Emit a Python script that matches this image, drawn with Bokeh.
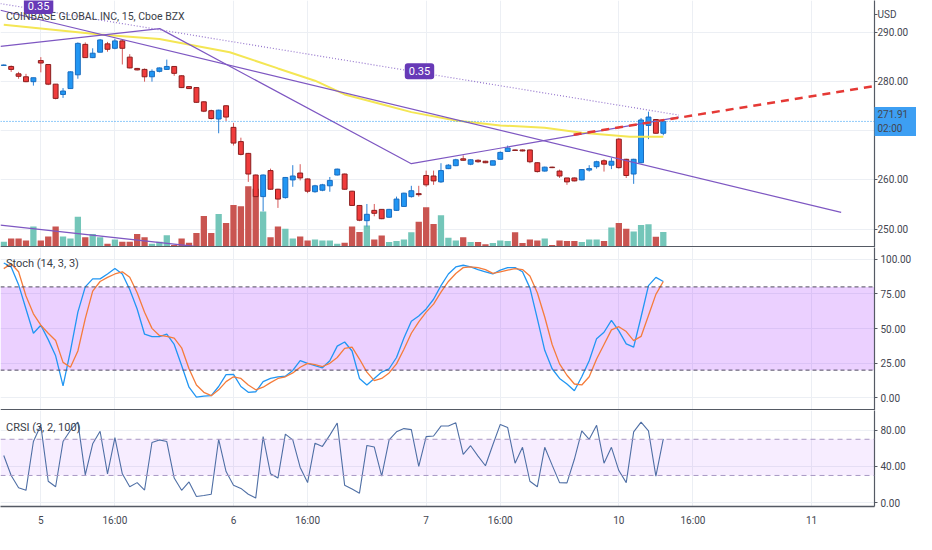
from bokeh.plotting import figure
from bokeh.layouts import column
from bokeh.models import (Range1d, FixedTicker, Span, Label, BoxAnnotation,
                          PrintfTickFormatter)
from bokeh.embed import file_html
from bokeh.resources import INLINE

# ---------------- data ----------------
bars = list(range(-5, 85))
opens = [283.3, 283.1, 281.6, 281.0, 280.0, 284.3, 283.5, 279.5, 277.4, 278.6,
         281.4, 287.6, 284.9, 286.0, 287.7, 286.8, 288.3, 285.0, 282.7, 282.5,
         281.0, 282.1, 282.5, 283.1, 281.2, 279.0, 278.8, 275.9, 274.1, 272.4,
         275.1, 270.7, 267.8, 265.4, 261.0, 256.6, 261.9, 258.1, 256.4, 260.0,
         261.4, 260.2, 257.6, 257.9, 258.8, 261.0, 261.2, 257.7, 254.8, 251.7,
         253.8, 254.0, 252.4, 253.8, 254.6, 256.6, 257.2, 260.9, 260.8, 259.6,
         262.3, 262.9, 264.3, 263.2, 264.0, 263.8, 263.0, 264.2, 265.8, 266.1,
         266.1, 266.1, 263.5, 261.8, 262.6, 261.8, 260.4, 260.4, 260.0, 262.0,
         262.7, 263.9, 263.0, 268.3, 264.2, 261.2, 263.5, 271.1, 272.3, 269.5]
highs = [283.5, 283.3, 282.0, 281.6, 280.8, 285.0, 283.6, 279.5, 278.7, 282.1,
         288.0, 288.0, 286.8, 288.7, 288.1, 288.7, 288.6, 285.6, 282.8, 282.7,
         282.5, 282.9, 284.5, 283.1, 281.3, 279.1, 278.9, 276.0, 274.3, 274.3,
         275.2, 271.6, 268.6, 265.5, 261.1, 261.1, 262.3, 258.2, 260.6, 263.0,
         263.2, 260.3, 259.0, 259.2, 260.6, 262.3, 261.3, 257.8, 254.9, 255.1,
         255.1, 254.0, 254.1, 256.6, 257.4, 258.8, 258.8, 261.9, 261.9, 263.4,
         263.2, 264.3, 265.0, 264.2, 264.2, 263.9, 263.9, 265.8, 267.0, 266.2,
         266.2, 266.2, 263.6, 262.7, 262.7, 262.1, 260.4, 260.5, 262.2, 263.0,
         263.9, 264.2, 264.5, 268.5, 264.3, 264.3, 272.6, 273.9, 272.4, 272.2]
lows = [283.2, 282.0, 280.6, 279.9, 279.2, 281.9, 279.3, 276.4, 276.7, 278.6,
        280.6, 284.9, 284.8, 286.0, 286.1, 286.6, 283.5, 282.7, 282.3, 280.0,
        280.0, 281.9, 282.4, 281.2, 278.7, 278.5, 275.7, 273.8, 272.3, 269.5,
        272.0, 267.0, 265.0, 259.6, 256.5, 253.6, 258.0, 254.3, 256.2, 258.6,
        259.9, 257.3, 257.4, 257.7, 257.6, 260.9, 258.0, 254.7, 251.6, 250.5,
        252.6, 252.0, 252.3, 253.7, 254.5, 256.4, 256.6, 258.6, 259.0, 259.4,
        262.2, 262.8, 263.9, 263.0, 263.5, 263.4, 263.0, 264.2, 265.7, 265.9,
        265.8, 263.4, 261.5, 261.7, 262.4, 260.4, 259.0, 259.7, 259.9, 261.7,
        262.3, 261.7, 262.2, 262.3, 260.4, 259.2, 263.4, 268.3, 269.4, 269.1]
closes = [283.4, 282.5, 281.1, 280.0, 280.8, 283.8, 279.5, 276.6, 278.1, 282.0,
          287.8, 284.9, 285.8, 288.5, 286.6, 288.3, 286.8, 282.8, 282.4, 281.0,
          282.1, 282.8, 283.1, 281.7, 278.8, 278.6, 275.8, 274.0, 272.5, 274.2,
          272.8, 267.5, 265.2, 261.2, 256.6, 261.0, 258.1, 256.1, 260.5, 260.8,
          260.4, 257.7, 258.8, 259.0, 259.9, 262.2, 258.1, 254.8, 251.8, 253.0,
          253.2, 252.1, 254.0, 256.1, 257.3, 257.8, 257.0, 259.0, 259.8, 261.9,
          263.0, 264.1, 264.0, 264.1, 263.7, 263.5, 263.9, 265.6, 266.5, 266.0,
          265.9, 263.7, 261.7, 262.6, 262.5, 260.8, 259.6, 259.8, 262.1, 262.3,
          263.7, 263.2, 263.8, 262.5, 260.9, 264.2, 272.2, 272.8, 269.5, 271.91]
volume = [18, 28, 28, 22, 65, 22, 34, 65, 34, 28,
          95, 32, 42, 32, 12, 25, 18, 18, 42, 32,
          12, 18, 38, 8, 28, 15, 45, 98, 45, 104,
          76, 132, 128, 190, 182, 112, 32, 65, 58, 28,
          34, 22, 25, 22, 22, 12, 15, 65, 48, 68,
          25, 37, 17, 20, 25, 47, 80, 125, 73, 100,
          30, 22, 32, 17, 17, 10, 14, 22, 20, 47,
          14, 25, 22, 28, 8, 22, 20, 20, 17, 25,
          25, 20, 62, 76, 58, 50, 70, 72, 33, 48]
stoch_k = [97.2, 94.4, 81.6, 64.1, 46.6, 52.4, 42.0, 30.3, 8.6, 33.8,
           61.8, 80.0, 85.8, 85.8, 89.3, 93.2, 89.3, 78.1, 64.1, 45.9,
           44.1, 44.1, 45.9, 38.5, 23.3, 7.7, 0.5, 1.2, 1.6, 8.2,
           16.8, 17.0, 8.2, 4.0, 4.4, 11.7, 14.0, 15.2, 15.6, 19.8,
           26.8, 24.9, 23.3, 21.7, 26.8, 37.3, 40.3, 33.8, 14.0, 9.3,
           14.0, 18.6, 21.0, 29.1, 43.1, 55.2, 59.0, 64.1, 71.1, 80.9,
           89.3, 94.4, 95.6, 94.4, 92.5, 90.9, 89.3, 92.1, 93.9, 93.9,
           90.9, 79.3, 57.1, 34.3, 21.0, 14.0, 10.0, 5.1, 15.2, 26.8,
           42.7, 47.3, 55.9, 48.3, 38.9, 36.6, 58.3, 80.9, 86.9, 83.9]
stoch_d = [93.2, 96.7, 90.9, 73.4, 60.6, 52.4, 46.6, 41.3, 25.6, 22.1,
           33.8, 57.1, 76.9, 83.9, 86.9, 89.3, 90.9, 86.9, 75.8, 61.8,
           50.1, 45.0, 44.3, 43.1, 36.1, 21.0, 9.3, 4.0, 1.6, 5.8,
           11.7, 15.2, 14.0, 9.3, 5.8, 7.7, 11.0, 14.0, 15.2, 18.0,
           22.1, 24.9, 24.0, 22.6, 24.9, 29.1, 35.7, 36.6, 28.0, 18.6,
           12.4, 14.0, 18.0, 24.5, 35.0, 46.6, 54.8, 61.8, 67.6, 76.2,
           83.9, 89.7, 93.9, 94.4, 93.9, 92.5, 89.7, 90.9, 92.1, 93.2,
           92.5, 87.9, 75.8, 58.3, 38.5, 24.5, 16.3, 10.0, 9.3, 15.2,
           28.0, 38.5, 49.0, 51.3, 47.8, 41.3, 44.3, 59.4, 74.6, 83.9]
crsi = [52.1, 30.0, 16.4, 13.6, 67.5, 85.4, 23.6, 17.5, 67.5, 80.0,
        88.9, 30.7, 65.0, 78.9, 31.8, 71.8, 31.8, 17.5, 22.1, 13.9,
        66.4, 69.3, 67.5, 27.1, 13.6, 22.9, 6.8, 7.9, 9.3, 70.0,
        34.3, 19.3, 15.7, 9.3, 5.0, 72.9, 31.8, 27.1, 75.7, 69.3,
        38.9, 22.1, 65.7, 62.1, 74.6, 87.9, 19.3, 15.0, 10.4, 63.2,
        61.4, 29.3, 69.3, 78.2, 81.8, 80.7, 40.0, 72.9, 73.6, 84.6,
        84.6, 88.2, 53.2, 62.9, 51.4, 40.7, 63.9, 86.4, 82.9, 43.6,
        61.1, 23.6, 17.5, 61.1, 41.4, 22.1, 21.8, 47.9, 79.3, 70.0,
        85.4, 43.6, 61.1, 35.4, 22.1, 78.2, 88.9, 79.3, 29.3, 70.4]
# moving average (yellow), read at bar positions
ma_bar = [-5, 8, 16, 25.5, 32, 37, 41, 46, 50, 56, 62, 68, 73, 79.5, 84]
ma_val = [291.6, 289.6, 288.7, 286.0, 282.7, 280.2, 277.4, 275.4, 273.8, 272.1,
          271.1, 270.6, 269.6, 268.8, 268.8]
# drawn trend lines (bar index, price)
tl_long_x = [-5.44, 108.0]
tl_long_y = [294.55, 253.4]
tl_zig_x = [-5.44, 16.05, 50.0, 86.1]
tl_zig_y = [287.2, 290.8, 263.3, 272.8]
tl_dot_x = [-5.44, 86.1]
tl_dot_y = [295.9, 273.2]
tl_low_x = [-5.44, 21.1]
tl_low_y = [250.8, 246.4]
tl_red_x = [71.9, 112.5]
tl_red_y = [269.2, 279.1]
last_price = 271.91
last_price_text = "271.91\n02:00"
currency_pos = 293.6
currency_text = "USD"

time_ticks = [0, 10, 26, 36, 52, 62, 78, 88, 104]
time_labels = ["5", "16:00", "6", "16:00", "7", "16:00", "10", "16:00", "11"]
price_ticks = [250, 260, 270, 280, 290]
stoch_ticks = [0, 25, 50, 75, 100]
crsi_ticks = [0, 40, 80]

# ---------------- styling ----------------
FONT = "Roboto"
W = 916
RB = 42
X0, X1 = -5.44, 112.5
xr = Range1d(X0, X1)
GRID = "#eceff4"
AXC = "#555a64"
LBL = "#434651"
UP_FILL, UP_LINE, UP_WICK = "#2196f3", "#1a6dc0", "#2a80d6"
DN_FILL, DN_LINE, DN_WICK = "#f03c3c", "#8b1e1e", "#d65a5a"
PURPLE = "#7e57c2"


def style_axis(ax):
    ax.axis_line_color = AXC
    ax.axis_line_width = 1.2
    ax.major_tick_out = 3
    ax.major_tick_in = 0
    ax.major_tick_line_color = AXC
    ax.minor_tick_line_color = None
    ax.major_label_standoff = 3
    ax.major_label_text_font = FONT
    ax.major_label_text_font_size = "10px"
    ax.major_label_text_color = LBL


def make_fig(height, y0, y1, ticks, xaxis=False, axis_ticker=None):
    p = figure(width=W, height=height, x_range=xr, y_range=Range1d(y0, y1),
               output_backend="svg", toolbar_location=None,
               y_axis_location="right",
               x_axis_location="below" if xaxis else None,
               min_border_left=0, min_border_right=RB, min_border_top=0,
               min_border_bottom=27 if xaxis else 0)
    p.outline_line_color = None
    p.background_fill_color = "white"
    p.border_fill_color = "white"
    p.xgrid.ticker = FixedTicker(ticks=time_ticks)
    p.xgrid.grid_line_color = GRID
    p.ygrid.ticker = FixedTicker(ticks=ticks)
    p.ygrid.grid_line_color = GRID
    ax = p.yaxis[0]
    ax.ticker = axis_ticker if axis_ticker is not None else FixedTicker(ticks=ticks)
    ax.formatter = PrintfTickFormatter(format="%.2f")
    style_axis(ax)
    if xaxis:
        xa = p.xaxis[0]
        xa.ticker = FixedTicker(ticks=time_ticks)
        xa.major_label_overrides = {t: l for t, l in zip(time_ticks, time_labels)}
        xa.axis_line_color = AXC
        xa.axis_line_width = 1.5
        xa.major_tick_out = 0
        xa.major_tick_in = 0
        xa.minor_tick_line_color = None
        xa.major_label_standoff = 8
        xa.major_label_text_font = FONT
        xa.major_label_text_font_size = "10px"
        xa.major_label_text_color = LBL
    else:
        p.add_layout(Span(location=y0, dimension="width", line_color=AXC, line_width=3))
    return p


# ---------------- main price panel ----------------
main_axis_ticks = [t for t in price_ticks if abs(t - last_price) > 5] + [last_price, currency_pos]
main_ticker = FixedTicker(ticks=main_axis_ticks, minor_ticks=[last_price])
pm = make_fig(247, 246.24, 296.53, price_ticks, axis_ticker=main_ticker)
ya = pm.yaxis[0]
ya.major_label_overrides = {last_price: last_price_text, currency_pos: currency_text}
# the single minor tick is drawn as the wide last-price marker;
# the label standoff is pulled back so labels stay next to the axis line
ya.minor_tick_line_color = "#3d9ff3"
ya.minor_tick_line_width = 29
ya.minor_tick_out = RB
ya.minor_tick_in = 0
ya.major_label_standoff = 3 - RB

pm.extra_y_ranges = {"vol": Range1d(0, 766)}
up = [c >= o for o, c in zip(opens, closes)]
vol_colors = ["#74c6b9" if u else "#c95551" for u in up]
pm.vbar(x=bars, top=volume, bottom=0, width=0.85, y_range_name="vol",
        fill_color=vol_colors, line_color=None)

wick_colors = [UP_WICK if u else DN_WICK for u in up]
pm.segment(x0=bars, y0=highs, x1=bars, y1=lows, line_color=wick_colors, line_width=1)
body_top = [max(o, c) for o, c in zip(opens, closes)]
body_bot = [min(o, c) for o, c in zip(opens, closes)]
pm.vbar(x=bars, top=body_top, bottom=body_bot, width=0.66,
        fill_color=[UP_FILL if u else DN_FILL for u in up],
        line_color=[UP_LINE if u else DN_LINE for u in up], line_width=1)

pm.add_layout(Span(location=last_price, dimension="width", line_color="#2196f3",
                   line_dash="1 2", line_width=1))
pm.line(ma_bar, ma_val, line_color="#f4e654", line_width=2)
pm.line(tl_long_x, tl_long_y, line_color=PURPLE, line_width=1.2)
pm.line(tl_zig_x, tl_zig_y, line_color=PURPLE, line_width=1.2)
pm.line(tl_low_x, tl_low_y, line_color=PURPLE, line_width=1.2)
pm.line(tl_dot_x, tl_dot_y, line_color="#9575cd", line_width=1.2, line_dash="1 2")
pm.line(tl_red_x, tl_red_y, line_color="#e53935", line_width=2.5, line_dash="8 6")

pm.add_layout(Label(x=-4.7, y=293.2, text="COINBASE GLOBAL INC, 15, Cboe BZX",
                    text_font=FONT, text_font_size="10.5px", text_color="#3a3e48",
                    text_baseline="middle"))
for lx, ly in [(-0.3, 295.4), (51.1, 282.1)]:
    pm.add_layout(Label(x=lx, y=ly, text="0.35", text_font=FONT,
                        text_font_size="11px", text_color="white",
                        text_align="center", text_baseline="middle",
                        background_fill_color="#673ab7", padding=4,
                        border_radius=3))

# ---------------- stochastic panel ----------------
ps = make_fig(163, -9.1, 108.4, stoch_ticks)
ps.add_layout(BoxAnnotation(bottom=20, top=80, fill_color="#9915ff", fill_alpha=0.2,
                            line_color=None, level="underlay"))
for lv in (20, 80):
    ps.add_layout(Span(location=lv, dimension="width", line_color="#4f4a5e",
                       line_dash="4 3", line_width=1))
ps.line(bars, stoch_k, line_color="#2196f3", line_width=1.3)
ps.line(bars, stoch_d, line_color="#f57c3b", line_width=1.3)
ps.add_layout(Label(x=-4.7, y=97.2, text="Stoch (14, 3, 3)", text_font=FONT,
                    text_font_size="11px", text_color="#3a3e48",
                    text_baseline="middle"))

# ---------------- CRSI panel ----------------
pc = make_fig(123, -4.3, 101.8, crsi_ticks, xaxis=True)
pc.add_layout(BoxAnnotation(bottom=30, top=70, fill_color="#9915ff", fill_alpha=0.08,
                            line_color=None, level="underlay"))
for lv in (30, 70):
    pc.add_layout(Span(location=lv, dimension="width", line_color="#a898c4",
                       line_dash="5 4", line_width=1))
pc.line(bars, crsi, line_color="#4f6fa5", line_width=1.1)
pc.add_layout(Label(x=-4.7, y=82.5, text="CRSI (3, 2, 100)", text_font=FONT,
                    text_font_size="11px", text_color="#3a3e48",
                    text_baseline="middle"))

layout = column(pm, ps, pc, spacing=0)
open("out.html", "w").write(file_html(layout, INLINE))
